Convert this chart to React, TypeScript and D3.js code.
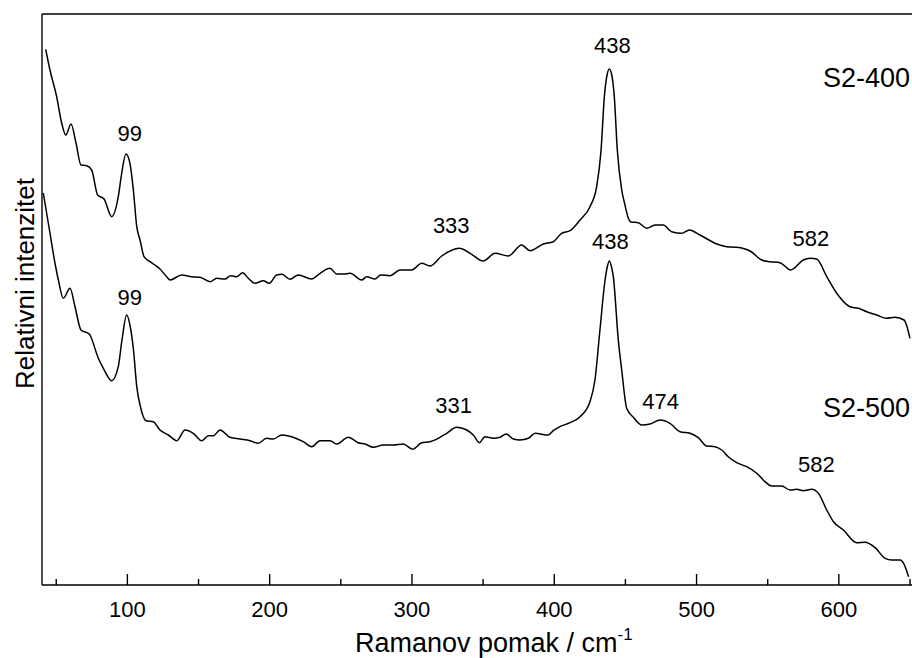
import React from "react";
import * as d3 from "d3";

// Raman shift (cm^-1) and relative intensity (a.u.)
const s400Shift = [42.6,45.6,50.3,53.8,56.7,60.4,63.9,67.4,71.4,74.9,79.1,83.6,89.0,93.6,96.0,99.0,101.8,104.2,106.6,108.9,111.7,115.9,119.4,122.9,127.6,130.0,138.2,145.2,151.0,158.1,162.8,168.6,172.6,176.8,181.0,185.0,189.7,195.5,199.7,204.9,208.5,214.3,220.1,229.5,235.4,242.4,247.1,251.7,256.5,264.7,268.2,274.0,278.0,284.6,291.6,299.8,306.8,312.7,320.9,333.3,340.8,350.1,358.4,367.7,377.1,383.0,392.3,399.3,405.2,411.1,418.1,425.1,429.8,432.9,435.2,437.1,438.7,440.4,442.2,444.3,447.4,449.7,452.0,453.9,459.1,465.0,470.8,476.6,482.5,489.6,494.9,502.4,514.2,521.2,528.2,537.6,545.8,551.6,558.6,566.2,575.0,579.7,584.4,591.5,598.5,607.8,613.7,619.6,626.6,633.6,639.5,645.8,650.0];
const s400Int = [535.7,515,488.3,462,450,461,442,420,419.3,415,390,386,368.3,388.3,411.7,431,421.7,395,358.3,345,328.3,323.3,320,316,308.3,305,310,308.3,307.7,303.3,306.7,306,309.3,308.3,312.3,306.7,301.7,304.3,301.7,310,310.7,305.7,310,306,311.7,316.7,311,311,311.7,305,308.3,306,310,309.3,315,315,321.7,319,329,336.7,331.7,324,331.7,329,340,334.3,341,343.3,351.7,354.3,365,378.3,398.3,435,488.3,510,516,510,488.3,435,395,380,367,363,362.3,356.7,360,360,353.3,351.7,355,350,341,338.3,337.7,334,325,323.3,322.3,315,325,326.7,326,308.3,291.7,278.3,276.7,273.3,270,266.7,267.7,265,246.7];

const s500Shift = [40.9,45.6,49.1,51.5,55.0,59.7,63.2,67.4,73.2,79.6,83.1,89.0,93.6,96.2,99.5,101.8,104.3,106.6,108.9,113.1,118.2,122.9,128.8,134.7,140.5,146.3,152.2,156.9,160.4,165.1,172.1,179.1,186.2,192.0,197.9,202.6,208.5,215.5,223.6,229.5,235.4,242.4,247.1,255.3,262.3,267.0,272.8,279.9,286.9,293.9,300.5,306.8,312.7,318.5,324.4,331.4,338.5,343.1,347.4,351.3,357.2,361.9,366.1,371.2,375.9,381.8,386.5,395.8,399.3,404.0,411.1,418.1,425.1,428.6,432.1,435.7,437.1,438.7,440.4,441.5,445.0,447.4,450.9,455.6,461.5,467.3,474.3,481.3,488.4,495.4,501.2,507.1,513.0,517.7,522.3,528.2,535.2,542.3,548.1,552.8,559.8,565.7,570.4,575.0,580.9,585.6,591.5,596.2,603.2,612.6,618.4,625.5,632.5,637.2,643.1,645.5,649.0];
const s500Int = [392,352,322,305,286.7,296.7,278.3,255,251,226.7,216.7,204.3,218.3,245,270,260,235,198.3,180,164.3,163.3,155,150,144.3,155,151.7,144.3,149.3,149.3,155,147.7,146,144.3,141.7,146.7,146,150,148.3,143.3,138.3,144.3,144.3,141,147.7,142.3,141,137.7,140,140,141,135.7,142.3,143.3,146.7,151.7,157.7,155,150,142.3,148.3,146.7,147.7,151,146,145,146.7,151.7,150,154.3,158.3,162.3,168.3,183.3,205,255,305,317,324,317,308.3,245,215,176.7,167.7,160,161,165,161.7,153.3,151.7,147.3,139,138.3,135,128.3,122.3,118.3,111.7,103.3,99,99,95,95.7,94.3,95.7,91.7,75,63.3,55,42.3,42.7,37.3,26.7,25,25,21.7,8.3];

const majorTicks = [100, 200, 300, 400, 500, 600];
const minorTicks = [50, 150, 250, 350, 450, 550, 650];

// Peak annotations
const peakLabels = ["99", "333", "438", "582", "99", "331", "438", "474", "582"];
const peakShift = [101.6, 327.6, 440.9, 580.3, 101.6, 329.2, 439.5, 474.7, 584.2];
const peakInt = [444, 352.3, 532, 339.3, 280, 172.3, 336, 175.7, 112.7];

const seriesNames = ["S2-400", "S2-500"];
const seriesNameInt = [498.3, 167.7];

const W = 912, H = 658;
const M = { left: 42, right: 910, top: 14, bottom: 585 };
const FONT = "'Liberation Sans', Arial, Helvetica, sans-serif";

export default function App() {
  const x = d3.scaleLinear().domain([40, 650]).range([M.left, M.right]);
  const y = d3.scaleLinear().domain([0, 571]).range([M.bottom, M.top]);
  const line = d3
    .line<[number, number]>()
    .x((d) => x(d[0]))
    .y((d) => y(d[1]))
    .curve(d3.curveMonotoneX);
  const d400 = line(s400Shift.map((s, i) => [s, s400Int[i]] as [number, number])) || "";
  const d500 = line(s500Shift.map((s, i) => [s, s500Int[i]] as [number, number])) || "";

  return (
    <svg
      width={W}
      height={H}
      viewBox={`0 0 ${W} ${H}`}
      style={{ position: "absolute", left: 0, top: 0, display: "block", background: "#fff" }}
      fontFamily={FONT}
    >
      <rect x={0} y={0} width={W} height={H} fill="#fff" />
      <line x1={M.left} x2={M.left} y1={M.top} y2={M.bottom} stroke="#000" strokeWidth={1.4} />
      <line x1={M.left} x2={W} y1={M.bottom} y2={M.bottom} stroke="#000" strokeWidth={1.4} />
      <line x1={M.left} x2={W} y1={M.top} y2={M.top} stroke="#000" strokeWidth={1.4} />
      {majorTicks.map((t) => (
        <g key={"M" + t}>
          <line x1={x(t)} x2={x(t)} y1={M.bottom} y2={M.bottom - 11} stroke="#000" strokeWidth={1.4} />
          <text x={x(t)} y={617} fontSize={22} textAnchor="middle" fill="#000">
            {t}
          </text>
        </g>
      ))}
      {minorTicks.map((t) => (
        <line key={"m" + t} x1={x(t)} x2={x(t)} y1={M.bottom} y2={M.bottom - 6} stroke="#000" strokeWidth={1.4} />
      ))}
      <path d={d400} fill="none" stroke="#000" strokeWidth={1.5} strokeLinejoin="round" />
      <path d={d500} fill="none" stroke="#000" strokeWidth={1.5} strokeLinejoin="round" />
      {peakLabels.map((lab, i) => (
        <text key={"p" + i} x={x(peakShift[i])} y={y(peakInt[i])} fontSize={22} textAnchor="middle" fill="#000">
          {lab}
        </text>
      ))}
      {seriesNames.map((n, i) => (
        <text key={n} x={910} y={y(seriesNameInt[i])} fontSize={27} textAnchor="end" fill="#000">
          {n}
        </text>
      ))}
      <text x={355} y={652} fontSize={27} textAnchor="start" fill="#000">
        Ramanov pomak / cm
        <tspan fontSize={17} dy={-12}>-1</tspan>
      </text>
      <text
        transform={`translate(34, ${(M.top + M.bottom) / 2 - 16}) rotate(-90)`}
        fontSize={26}
        textAnchor="middle"
        fill="#000"
      >
        Relativni intenzitet
      </text>
    </svg>
  );
}
